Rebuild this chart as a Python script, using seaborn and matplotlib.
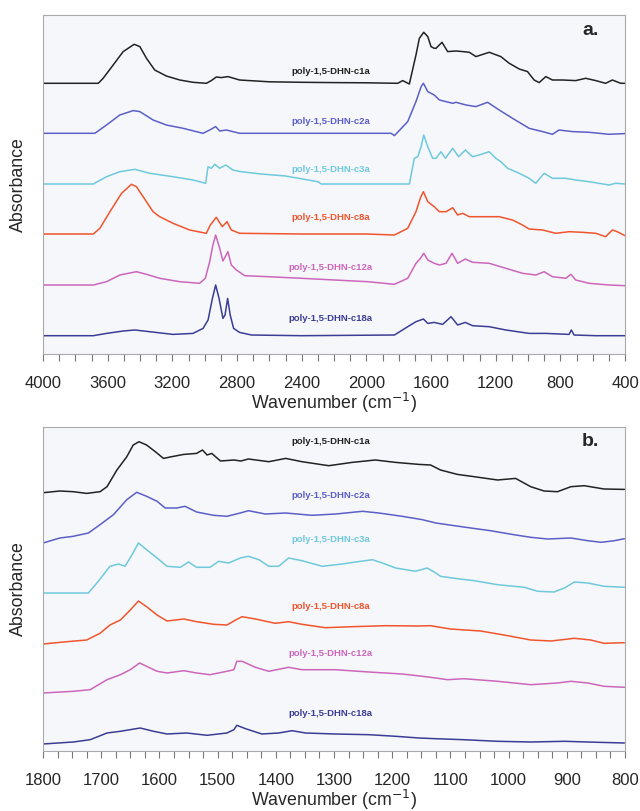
import pandas as pd
import seaborn as sns
import matplotlib.pyplot as plt
from matplotlib.ticker import MultipleLocator

# sample names and colours
samples = ['poly-1,5-DHN-c1a', 'poly-1,5-DHN-c2a', 'poly-1,5-DHN-c3a',
           'poly-1,5-DHN-c8a', 'poly-1,5-DHN-c12a', 'poly-1,5-DHN-c18a']
colors = ['#222222', '#5b5fc7', '#6ec9dc', '#f0552d', '#cc66bb', '#3b3d94']

# ---- panel a: full range spectra (wavenumber, absorbance above baseline) ----
a_wn_c1a = [4000, 3658, 3628, 3566, 3504, 3436, 3401, 3360, 3309, 3237, 3154, 3072, 2990, 2959, 2928,
            2897, 2856, 2784, 2600, 2400, 2200, 2000, 1806, 1775, 1734, 1693, 1672, 1645, 1620, 1600,
            1580, 1569, 1532, 1497, 1445, 1404, 1363, 1322, 1240, 1168, 1116, 1054, 1003, 962, 931,
            890, 849, 787, 705, 643, 581, 520, 478, 427, 400]
a_ab_c1a = [0, 0, 5, 18.3, 31.7, 39, 36.7, 25, 13.3, 7.3, 3.3, 1, 0, 2.7, 6.3,
            5.7, 6.7, 3.3, 1.5, 1, 0.7, 0.5, 0, 2.7, -0.7, 28.3, 45, 51, 46.7, 36.7,
            35, 35, 41, 31.7, 32.3, 31.7, 31, 26.7, 31, 26.7, 20, 14.3, 11.7, 3.3, 0.7,
            6.7, 3.3, 3.3, 2.7, 5, 2.7, 0, 3.3, 0, 0]

a_wn_c2a = [4000, 3679, 3607, 3525, 3442, 3401, 3319, 3237, 3134, 3010, 2969, 2932, 2907, 2866, 2784,
            2400, 2000, 1847, 1826, 1744, 1693, 1661, 1647, 1620, 1580, 1548, 1466, 1445, 1384, 1322,
            1250, 1178, 1096, 993, 910, 849, 808, 725, 622, 499, 400]
a_ab_c2a = [0, 0, 8.3, 18.3, 22.7, 21.7, 13.3, 8.3, 5, 0, 3.3, 6.7, 2.3, 3.3, 0,
            0, 0, 0, -2.3, 11.7, 31.7, 46.7, 50, 41.7, 38.3, 33.3, 30, 31, 28.3, 26.7,
            31, 23.3, 15, 5, 1.7, -1, 3.3, 1.7, 1, -1, -0.3]

a_wn_c3a = [4000, 3689, 3607, 3525, 3432, 3340, 3196, 3072, 2994, 2979, 2959, 2938, 2907, 2870, 2825,
            2784, 2650, 2500, 2300, 2279, 2000, 1734, 1703, 1682, 1661, 1645, 1620, 1590, 1569, 1538,
            1511, 1466, 1429, 1388, 1343, 1302, 1240, 1199, 1168, 1126, 1054, 993, 952, 900, 849,
            766, 705, 622, 499, 458, 400]
a_ab_c3a = [0, 0, 7.3, 12.3, 14.7, 10.7, 7.3, 4, 0.7, 17.3, 15.7, 19.7, 15.7, 19, 14,
            12.5, 10, 8, 2.3, 0, 0, 0, 25.7, 27.3, 37.3, 49, 37.3, 25.7, 25.7, 32.3,
            25.7, 35.7, 27.3, 34, 27.3, 29, 32.3, 25.7, 22.3, 15.7, 10.7, 5.7, 0.7, 10.7, 5.7,
            5.7, 4, 2.3, -1, 0.7, 0]

a_wn_c8a = [4000, 3689, 3648, 3586, 3514, 3453, 3422, 3381, 3319, 3278, 3196, 3093, 2990, 2965, 2928,
            2891, 2862, 2835, 2784, 2400, 2000, 1826, 1744, 1693, 1665, 1647, 1620, 1580, 1548, 1507,
            1466, 1435, 1404, 1363, 1281, 1178, 1096, 1034, 993, 910, 828, 746, 663, 581, 520,
            478, 448, 400]
a_ab_c8a = [0, 0, 5.7, 22.3, 40.7, 49.7, 47.3, 37.3, 22.3, 17.3, 10.7, 4, 0.7, 9, 16.7,
            7.3, 12.3, 4, 0.7, 0, 0, -1, 5.7, 22.3, 36.3, 42.3, 32.3, 27.3, 22.3, 22.3,
            26.3, 19, 20.7, 17.3, 17.3, 17.3, 14, 9, 5, 4, 0.7, 2.3, 1.7, 0.7, -2.7,
            4, 2.3, -1.7]

a_wn_c12a = [4000, 3689, 3607, 3525, 3422, 3360, 3278, 3154, 3031, 2996, 2969, 2949, 2932, 2907, 2887,
             2856, 2835, 2804, 2752, 2608, 2402, 2197, 1991, 1826, 1744, 1693, 1665, 1645, 1620, 1580,
             1548, 1507, 1470, 1435, 1388, 1343, 1240, 1137, 1034, 952, 900, 849, 766, 735, 705,
             622, 499, 400]
a_ab_c12a = [0, 0, 3.3, 10, 13.3, 10.7, 6.7, 3.3, 1.7, 6.7, 23.3, 40, 50, 36.7, 24,
             33.3, 20, 15, 9.3, 8.3, 6.7, 5, 3.3, 0.7, 6.7, 21.7, 26.7, 31.7, 25, 21.7,
             20, 21.7, 31.7, 21.7, 26, 22.7, 21.7, 16.7, 11.7, 10, 13.3, 8.3, 6.7, 10.7, 5,
             1.7, 0, -0.7]

a_wn_c18a = [4000, 3689, 3607, 3504, 3432, 3340, 3196, 3072, 3010, 2979, 2952, 2932, 2911, 2887, 2874,
             2858, 2842, 2821, 2784, 2711, 2402, 1826, 1744, 1693, 1647, 1620, 1580, 1528, 1476, 1435,
             1388, 1343, 1240, 1137, 993, 890, 746, 732, 715, 581, 400]
a_ab_c18a = [0, 0, 2.3, 4.7, 5.7, 4, 1.3, 2.3, 7.3, 15.7, 37.3, 50.7, 37.3, 17.3, 20.7,
             37.3, 20.7, 7.3, 3.3, 0.7, 0, 0.7, 9, 14, 16.7, 12.3, 13.3, 11.3, 19, 10.7,
             13.3, 10, 9, 5.7, 2.3, 2.3, 1.3, 5.7, 0.7, 0, 0]

# ---- panel b: 1800-800 region ----
b_wn_c1a = [1800, 1771, 1748, 1725, 1702, 1690, 1673, 1656, 1645, 1635, 1622, 1607, 1593, 1579, 1558,
            1536, 1526, 1518, 1510, 1495, 1472, 1460, 1447, 1412, 1383, 1355, 1309, 1269, 1229, 1194,
            1154, 1134, 1117, 1088, 1059, 1019, 988, 962, 939, 916, 893, 870, 836, 801]
b_ab_c1a = [0, 1.7, 1, -0.7, 1, 6, 22.7, 36, 47.7, 51, 47.7, 41, 34.3, 36, 38.3,
            39.3, 42.7, 37.7, 39.3, 31.7, 32.7, 31.7, 33.7, 31, 34.3, 31, 27, 30.3, 32.7, 30.3,
            28.3, 27.7, 22.7, 18.3, 16, 12.7, 14.3, 6, 1.7, 1, 6, 7, 3.7, 3.3]

b_wn_c2a = [1800, 1771, 1748, 1722, 1702, 1679, 1656, 1639, 1622, 1604, 1590, 1570, 1556, 1536, 1507,
            1484, 1461, 1447, 1418, 1383, 1338, 1297, 1251, 1223, 1183, 1148, 1125, 1105, 1065, 1031,
            991, 962, 933, 893, 864, 841, 818, 801]
b_ab_c2a = [0, 5, 6.7, 10, 18.3, 28.3, 43.3, 50.7, 46.7, 41.7, 35, 35, 36.7, 31, 27.7,
            26.7, 30, 32.3, 29, 30, 27.7, 29, 31.7, 30, 26.7, 23.3, 20, 18.3, 15, 12.3,
            8.3, 5.7, 4, 5, 2.3, 0.7, 2.3, 4.3]

b_wn_c3a = [1800, 1722, 1705, 1685, 1670, 1659, 1647, 1636, 1622, 1604, 1587, 1564, 1550, 1536, 1513,
            1498, 1481, 1461, 1447, 1429, 1412, 1395, 1378, 1355, 1320, 1286, 1263, 1234, 1217, 1194,
            1160, 1140, 1125, 1117, 1088, 1059, 1019, 973, 950, 922, 904, 887, 864, 836, 801]
b_ab_c3a = [0, 0, 11.7, 26.7, 29, 26.7, 38.3, 50, 43.3, 35, 26.7, 25.7, 31, 25.7, 25.7,
            31.7, 30, 35, 36.7, 33.3, 26.7, 26.7, 35, 32.3, 26.7, 29, 31, 33.3, 30, 25,
            21.7, 25, 20, 16.7, 14.3, 12.3, 8.3, 5.7, 1.7, 1, 5, 11, 10, 6.7, 5.7]

b_wn_c8a = [1800, 1759, 1725, 1702, 1685, 1667, 1650, 1636, 1622, 1604, 1587, 1558, 1536, 1507, 1484,
            1469, 1458, 1435, 1401, 1378, 1355, 1315, 1269, 1211, 1154, 1134, 1100, 1048, 1008, 962,
            927, 887, 859, 836, 801]
b_ab_c8a = [0, 2.3, 4, 10.7, 19, 24, 34, 43, 37.3, 29, 23, 25, 22.3, 19.7, 19,
            24, 27.3, 25, 20.7, 22.3, 19.7, 16.3, 17.3, 18.3, 18, 18.3, 15, 13, 9, 4,
            3, 5.7, 4, 0.7, 1.3]

b_wn_c12a = [1800, 1748, 1719, 1690, 1667, 1650, 1634, 1622, 1604, 1587, 1558, 1536, 1513, 1484, 1472,
             1467, 1458, 1435, 1412, 1378, 1355, 1298, 1240, 1183, 1148, 1125, 1105, 1077, 1019, 962,
             916, 893, 864, 836, 801]
b_ab_c12a = [0, 1.7, 3.3, 13.3, 18.3, 23.3, 30, 26.7, 21.7, 20, 22.3, 20, 18.3, 21.7, 23.3,
             31.7, 31.7, 25.7, 21.7, 25.7, 23.3, 23.3, 21, 19, 16.7, 15, 13.3, 14.3, 11.7, 8.3,
             10, 11.7, 10, 6.7, 5.7]

b_wn_c18a = [1800, 1748, 1719, 1690, 1667, 1633, 1610, 1587, 1553, 1518, 1484, 1472, 1467, 1452, 1424,
             1395, 1372, 1349, 1298, 1240, 1194, 1154, 1125, 1077, 1019, 962, 904, 847, 801]
b_ab_c18a = [0, 2, 4.3, 11, 12.7, 16, 12.7, 10, 11, 8.7, 11, 14.3, 18.7, 15.3, 10,
             11, 13.3, 11, 10, 9.3, 7.7, 6, 5.3, 4.3, 2.7, 2, 2.7, 1.7, 1]

# vertical stacking offsets and label heights (same arbitrary units)
a_offsets = [270.7, 220.7, 170, 120, 69, 18.3]
a_label_y = [282.3, 233, 185, 136, 87, 35]
b_offsets = [258.3, 208, 158, 107, 58, 7]
b_label_y = [309.3, 256, 211, 144.3, 98, 38]

a_wn = [a_wn_c1a, a_wn_c2a, a_wn_c3a, a_wn_c8a, a_wn_c12a, a_wn_c18a]
a_ab = [a_ab_c1a, a_ab_c2a, a_ab_c3a, a_ab_c8a, a_ab_c12a, a_ab_c18a]
b_wn = [b_wn_c1a, b_wn_c2a, b_wn_c3a, b_wn_c8a, b_wn_c12a, b_wn_c18a]
b_ab = [b_ab_c1a, b_ab_c2a, b_ab_c3a, b_ab_c8a, b_ab_c12a, b_ab_c18a]


def stack(wns, abss, offsets):
    frames = []
    for name, wn, ab, off in zip(samples, wns, abss, offsets):
        frames.append(pd.DataFrame({'sample': name, 'wn': wn,
                                    'abs': [v + off for v in ab]}))
    return pd.concat(frames, ignore_index=True)


sns.set_style('white')
plt.rcParams['font.family'] = ['Liberation Sans', 'DejaVu Sans']

fig = plt.figure(figsize=(6.4, 8.11), dpi=100)
W, H = 640, 811
ax_a = fig.add_axes([43 / W, (H - 354) / H, 582 / W, 339 / H])
ax_b = fig.add_axes([43 / W, (H - 751) / H, 582 / W, 324 / H])

panels = [
    (ax_a, stack(a_wn, a_ab, a_offsets), a_label_y, 2222, (4000, 400), (0, 339), 400, 100, 'a.'),
    (ax_b, stack(b_wn, b_ab, b_offsets), b_label_y, 1306, (1800, 800), (0, 324), 100, 25, 'b.'),
]

for ax, df, label_y, label_x, xlim, ylim, major, minor, tag in panels:
    ax.set_facecolor('#f6f7fb')
    sns.lineplot(data=df, x='wn', y='abs', hue='sample', palette=colors,
                 estimator=None, sort=False, legend=False, linewidth=1.1, ax=ax)
    for name, col, ly in zip(samples, colors, label_y):
        ax.text(label_x, ly, name, color=col, fontsize=6.8, fontweight='bold',
                ha='center', va='center')
    ax.text(0.94, 0.955, tag, transform=ax.transAxes, fontsize=14,
            fontweight='bold', ha='center', va='center')
    ax.set_xlim(*xlim)
    ax.set_ylim(*ylim)
    ax.xaxis.set_major_locator(MultipleLocator(major))
    ax.xaxis.set_minor_locator(MultipleLocator(minor))
    ax.tick_params(axis='x', which='both', direction='out', length=5, width=0.8,
                   color='#777777', labelsize=12, pad=10.5, bottom=True)
    ax.set_yticks([])
    for sp in ax.spines.values():
        sp.set_color('#aaaaaa')
        sp.set_linewidth(0.8)
    ax.set_xlabel('Wavenumber (cm$^{-1}$)', fontsize=12.8, labelpad=0)
    ax.set_ylabel('Absorbance', fontsize=12.8)
    ax.yaxis.set_label_coords(-0.028, 0.5)

fig.savefig('out.png', dpi=100)
